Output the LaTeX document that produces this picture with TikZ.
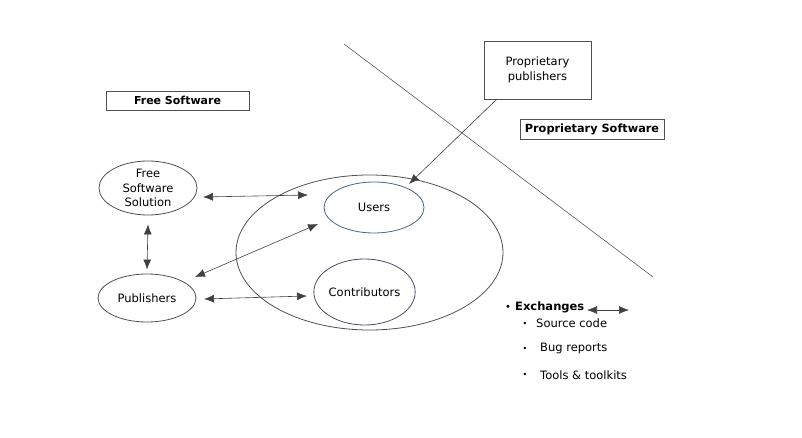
\documentclass[tikz,border=0pt]{standalone}
\usepackage{fontspec}
\setmainfont{DejaVu Sans}
\usetikzlibrary{arrows.meta,shapes.geometric,calc}
\definecolor{lineg}{HTML}{505050}
\definecolor{usersb}{HTML}{4A6685}
\definecolor{contb}{HTML}{4E4A66}
\tikzset{
  ell/.style={ellipse,draw=lineg,line width=0.8pt,inner sep=0pt,align=center,font=\fontsize{11.5}{14.5}\selectfont},
  box/.style={rectangle,draw=lineg,line width=0.8pt,inner sep=0pt,align=center},
  conn/.style={line width=0.6pt,draw=black!75,{Latex[length=10pt,width=8pt]}-{Latex[length=10pt,width=8pt]}},
  oneway/.style={line width=0.6pt,draw=black!75,-{Latex[length=10pt,width=8pt]}},
  lbl/.style={anchor=west,inner sep=0pt,font=\fontsize{11.5}{14}\selectfont},
}
\begin{document}
\begin{tikzpicture}[x=1pt,y=-1pt]
\useasboundingbox (0,0) rectangle (802,438);
% boxes
\node[box,minimum width=143pt,minimum height=19pt,font=\bfseries\fontsize{11}{13}\selectfont] (fs) at (177.5,100.5) {Free Software};
\node[box,minimum width=107pt,minimum height=58pt,font=\fontsize{11.5}{14.5}\selectfont] (pp) at (537.5,70) {Proprietary\\publishers};
\node[box,minimum width=144pt,minimum height=20pt,font=\bfseries\fontsize{11.3}{13}\selectfont] (ps) at (592,129) {Proprietary Software};
% divider
\coordinate (d1) at (344,44);
\coordinate (d2) at (653,277);
\draw[line width=0.6pt,draw=black!65] (d1) -- (d2);
% ellipses
\node[ell,minimum width=98pt,minimum height=54pt] (fss) at (148,188) {Free\\Software\\Solution};
\node[ell,minimum width=98pt,minimum height=48pt] (pub) at (147,298) {Publishers};
\node[ell,minimum width=267pt,minimum height=155pt] (big) at (369.5,252.5) {};
\node[ell,draw=usersb,minimum width=100pt,minimum height=51pt] (users) at (374,207.5) {Users};
\node[ell,draw=contb,minimum width=101pt,minimum height=66pt] (contrib) at (364.5,292) {Contributors};
% connectors
\coordinate (a1) at (203,197);
\coordinate (a2) at (308,195);
\draw[conn] (a1) -- (a2);
\coordinate (v1) at ($(fss.south)+(0,9)$);
\coordinate (v2) at ($(pub.north)+(0,-4)$);
\draw[conn] (v1) -- (v2);
\coordinate (b1) at (195,277);
\coordinate (b2) at (318,224);
\draw[conn] (b1) -- (b2);
\coordinate (c1) at (204,299);
\coordinate (c2) at (307,296);
\draw[conn] (c1) -- (c2);
\coordinate (p1) at (497,99);
\coordinate (p2) at (409,184);
\draw[oneway] (p1) -- (p2);
% exchanges
\node[lbl,font=\bfseries\fontsize{11.5}{14}\selectfont] (ex) at (515,307) {Exchanges};
\node[anchor=center,inner sep=0pt,font=\fontsize{10}{10}\selectfont] (bx) at (508,308) {•};
\coordinate (e1) at (587,310);
\coordinate (e2) at (629,310);
\draw[conn] (e1) -- (e2);
\node[lbl] (s1) at (536,323) {Source code};
\node[lbl] (s2) at (540,349) {Bug reports};
\node[lbl] (s3) at (540,375) {Tools \& toolkits};
\node[anchor=center,inner sep=0pt,font=\fontsize{8}{8}\selectfont] (b1x) at (525,324) {•};
\node[anchor=center,inner sep=0pt,font=\fontsize{8}{8}\selectfont] (b2x) at (525,349) {•};
\node[anchor=center,inner sep=0pt,font=\fontsize{8}{8}\selectfont] (b3x) at (525,375) {•};
\end{tikzpicture}
\end{document}
